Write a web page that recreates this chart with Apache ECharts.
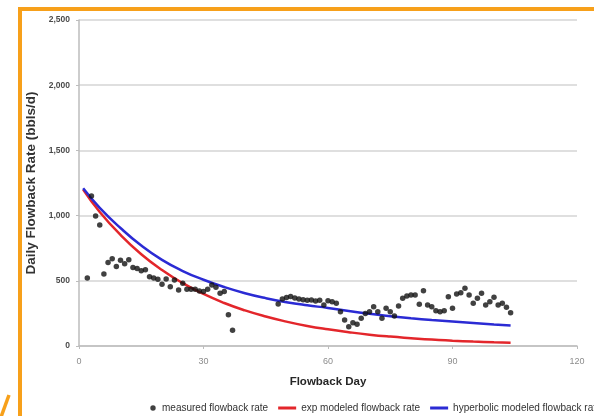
<!DOCTYPE html>
<html>
<head>
<meta charset="utf-8">
<script src="https://cdn.jsdelivr.net/npm/echarts@6/dist/echarts.min.js"></script>
<style>
  html, body { margin: 0; padding: 0; background: #ffffff; }
  #chart { width: 594px; height: 416px; }
</style>
</head>
<body>
<div id="chart"></div>
<script>
// Measured daily flowback rate (bbls/d) by flowback day
const measuredDays = [
  2, 3, 4, 5, 6, 7, 8, 9, 10, 11, 12, 13, 14, 15, 16, 17, 18, 19, 20, 21,
  22, 23, 24, 25, 26, 27, 28, 29, 30, 31, 32, 33, 34, 35, 36, 37,
  48, 49, 50, 51, 52, 53, 54, 55, 56, 57, 58, 59, 60, 61, 62,
  63, 64, 65, 66, 67, 68, 69, 70, 71, 72, 73, 74, 75, 76, 77, 78, 79, 80,
  81, 82, 83, 84, 85, 86, 87, 88, 89, 90, 91, 92, 93, 94, 95, 96, 97, 98,
  99, 100, 101, 102, 103, 104
];
const measuredRates = [
  521, 1150, 997, 928, 553, 640, 670, 610, 658, 630, 662, 602, 595, 578, 585, 532, 521, 511, 473, 514,
  455, 506, 429, 481, 435, 435, 435, 422, 417, 435, 468, 450, 404, 417, 240, 120,
  322, 360, 372, 380, 368, 360, 355, 350, 352, 346, 350, 314, 347, 340, 327,
  263, 199, 148, 179, 166, 212, 250, 263, 301, 263, 212, 289, 263, 230, 307, 366, 383, 391,
  391, 320, 424, 314, 301, 271, 263, 271, 378, 289, 399, 409, 442, 391, 327, 366, 404, 314,
  340, 373, 314, 327, 297, 255
];

// Modeled curves, sampled along the flowback period
const modelDays = [1, 5, 10, 15, 20, 25, 30, 35, 40, 45, 50, 55, 60, 65, 70, 75, 80, 85, 90, 95, 100, 104];
const expRates = [1200, 1028, 852, 704, 583, 482, 399, 330, 273, 226, 187, 154, 128, 106, 87, 72, 60, 49, 41, 34, 28, 24];
const hyperbolicRates = [1210, 1060, 905, 770, 660, 575, 508, 452, 405, 367, 336, 312, 292, 268, 247, 229, 213, 199, 187, 176, 165, 157];

// Axis ticks
const xTicks = [0, 30, 60, 90, 120];
const yTicks = [0, 500, 1000, 1500, 2000, 2500];

const pair = (xs, ys) => xs.map((x, i) => [x, ys[i]]);

// Legend icons drawn inside an 18x8 box (tiny corner specks fix the box size)
const corners = 'M0,0 h0.05 v0.05 h-0.05 Z M18,8 h-0.05 v-0.05 h0.05 Z ';
const dotIcon = 'path://' + corners + 'M11.3,4 a2.7,2.7 0 1,0 5.4,0 a2.7,2.7 0 1,0 -5.4,0 Z';
const lineIcon = 'path://' + corners + 'M0,2.4 H18 V5.6 H0 Z';

const chart = echarts.init(document.getElementById('chart'), null, { renderer: 'canvas' });
const gridColor = '#d4d4d4';
const font = 'Liberation Sans, Arial, sans-serif';
const orange = '#f7a01a';

chart.setOption({
  animation: false,
  backgroundColor: '#ffffff',
  grid: { left: 79, right: 17, top: 20, bottom: 70 },
  xAxis: {
    type: 'value',
    min: xTicks[0],
    max: xTicks[xTicks.length - 1],
    interval: xTicks[1] - xTicks[0],
    name: 'Flowback Day',
    nameLocation: 'middle',
    nameGap: 30,
    nameTextStyle: { fontFamily: font, fontSize: 11.5, fontWeight: 'bold', color: '#262626' },
    axisLine: { show: true, lineStyle: { color: '#bdbdbd', width: 1.5 } },
    axisTick: { show: true, length: 3, lineStyle: { color: '#bdbdbd' } },
    axisLabel: { fontFamily: font, fontSize: 9, color: '#8c8c8c', margin: 11 },
    splitLine: { show: false }
  },
  yAxis: {
    type: 'value',
    min: yTicks[0],
    max: yTicks[yTicks.length - 1],
    interval: yTicks[1] - yTicks[0],
    name: 'Daily Flowback Rate (bbls/d)',
    nameLocation: 'middle',
    nameGap: 39,
    nameTextStyle: { fontFamily: font, fontSize: 13.5, fontWeight: 'bold', color: '#333333' },
    axisLine: { show: true, lineStyle: { color: '#bdbdbd', width: 1.5 } },
    axisTick: { show: true, length: 3, lineStyle: { color: '#bdbdbd' } },
    axisLabel: {
      fontFamily: font, fontSize: 8.5, fontWeight: 'bold', color: '#4a4a4a', margin: 9,
      formatter: v => v.toLocaleString('en-US')
    },
    splitLine: { show: true, lineStyle: { color: gridColor, width: 1.5 } }
  },
  legend: {
    left: 134,
    top: 398,
    width: 900,
    itemGap: 10,
    itemWidth: 18,
    itemHeight: 8,
    textStyle: { fontFamily: font, fontSize: 10, color: '#333333' },
    data: [
      { name: 'measured flowback rate', icon: dotIcon, itemStyle: { color: '#111111' } },
      { name: 'exp modeled flowback rate', icon: lineIcon, itemStyle: { color: '#e3262b' } },
      { name: 'hyperbolic modeled flowback rate', icon: lineIcon, itemStyle: { color: '#2b2bd4' } }
    ]
  },
  series: [
    {
      name: 'measured flowback rate',
      type: 'scatter',
      symbol: 'circle',
      symbolSize: 5.5,
      itemStyle: { color: '#111111' },
      data: pair(measuredDays, measuredRates),
      z: 5
    },
    {
      name: 'exp modeled flowback rate',
      type: 'line',
      smooth: true,
      showSymbol: false,
      lineStyle: { color: '#e3262b', width: 2.5 },
      itemStyle: { color: '#e3262b' },
      data: pair(modelDays, expRates),
      z: 3
    },
    {
      name: 'hyperbolic modeled flowback rate',
      type: 'line',
      smooth: true,
      showSymbol: false,
      lineStyle: { color: '#2b2bd4', width: 2.5 },
      itemStyle: { color: '#2b2bd4' },
      data: pair(modelDays, hyperbolicRates),
      z: 4
    }
  ],
  graphic: [
    // orange frame along the top and left edges
    { type: 'rect', shape: { x: 18, y: 7, width: 576, height: 4 }, style: { fill: orange }, z: 10 },
    { type: 'rect', shape: { x: 18, y: 7, width: 4, height: 409 }, style: { fill: orange }, z: 10 },
    // orange stroke at the lower-left corner
    { type: 'line', shape: { x1: 1, y1: 417, x2: 9, y2: 395 }, style: { stroke: orange, lineWidth: 3.5 }, z: 10 }
  ]
});
</script>
</body>
</html>
